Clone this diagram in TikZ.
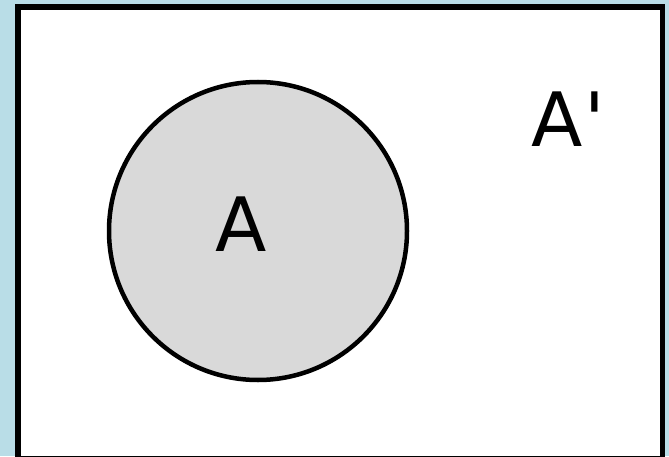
\documentclass[tikz,border=0pt]{standalone}
\usepackage{fontspec}
\setmainfont{DejaVu Sans}
\usepackage{xcolor}
\definecolor{bgblue}{RGB}{185,221,231}
\definecolor{setgray}{RGB}{217,217,217}

\begin{document}
\begin{tikzpicture}[x=1pt, y=1pt, font=\fontsize{75}{90}\selectfont, line width=0.4pt]
  \useasboundingbox (0,0) rectangle (669,456);
  \clip (0,0) rectangle (669,456);
  \fill[bgblue] (0,0) rectangle (669,456);

  % universe
  \draw[line width=5.5pt, fill=white] (18,-3) rectangle (662.5,449);

  % set A
  \node[draw, circle, line width=4.5pt, fill=setgray, minimum size=298pt, inner sep=0pt] (setA) at (258,225) {};
  \node[inner sep=0pt] (labA) at (241,231.5) {A};
  \node[inner sep=0pt, anchor=west] (labAc) at (531,337) {A\kern2pt\textquotesingle};
\end{tikzpicture}
\end{document}
